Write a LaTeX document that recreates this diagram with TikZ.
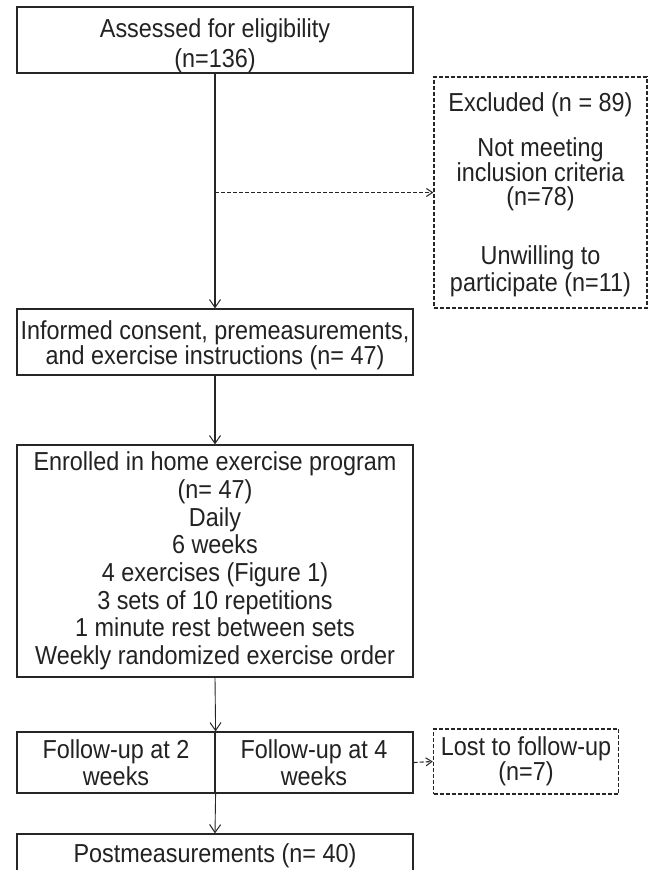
\documentclass[tikz,border=0pt]{standalone}
\usepackage{fontspec}
\setmainfont{Liberation Sans}[FakeStretch=0.9]
\usetikzlibrary{arrows.meta}
\definecolor{ln}{HTML}{262626}
\definecolor{tx}{HTML}{222222}
\tikzset{
  box/.style={draw=ln, line width=1.2pt, minimum width=396pt, align=center, inner sep=0pt, text=tx,
    font=\fontsize{26}{25}\selectfont},
  dbox/.style={box, dash pattern=on 4pt off 2pt, line width=1.5pt},
  conn/.style={draw=ln, line width=1.2pt, -{Straight Barb[length=8pt,width=11pt,line width=1pt]}},
  dconn/.style={draw=ln, line width=1.5pt, dash pattern=on 4pt off 2pt, -{Straight Barb[length=6pt,width=8pt,line width=1pt]}}
}
\begin{document}
\begin{tikzpicture}[x=1pt,y=-1pt]
\useasboundingbox (0,0) rectangle (650,870);
\clip (0,0) rectangle (650,870);
\fill[white] (0,0) rectangle (650,870);
\node[box, minimum height=66pt, font=\fontsize{26}{30}\selectfont] (b1) at (215,40) {\rule{0pt}{30pt}Assessed for eligibility\\(n=136)};
\node[dbox, minimum width=213pt, minimum height=231pt, font=\fontsize{26}{24}\selectfont] (ex) at (540.5,192.5)
  {\rule{0pt}{24pt}Excluded (n = 89)\\[19pt]Not meeting\\inclusion criteria\\(n=78)\\[34pt]Unwilling to\\[2pt]participate (n=11)};
\node[box, minimum height=66pt] (b2) at (215,342) {\rule{0pt}{26pt}Informed consent, premeasurements,\\and exercise instructions (n= 47)};
\node[box, minimum height=232pt, font=\fontsize{26}{27.7}\selectfont] (b3) at (215,561)
  {Enrolled in home exercise program\\(n= 47)\\Daily\\6 weeks\\4 exercises (Figure 1)\\3 sets of 10 repetitions\\1 minute rest between sets\\Weekly randomized exercise order};
\node[box, minimum width=198pt, minimum height=61pt, font=\fontsize{26}{27}\selectfont] (fl) at (116,762.5) {Follow-up at 2\\weeks};
\node[box, minimum width=198pt, minimum height=61pt, font=\fontsize{26}{27}\selectfont] (fr) at (314,762.5) {Follow-up at 4\\weeks};
\node[dbox, minimum width=185pt, minimum height=65pt, font=\fontsize{26}{24}\selectfont] (lost) at (526,761.5) {Lost to follow-up\\(n=7)};
\node[box, minimum height=44pt] (pm) at (215,856) {Postmeasurements (n= 40)};
\draw[conn] (b1.south) -- (b2.north);
\draw[dconn] (b1.south |- ex.west) -- (ex.west);
\draw[conn, line width=1.7pt] (b2.south) -- (b3.north);
\draw[conn, line width=0.9pt] (b3.south) -- (fl.north east);
\draw[conn, line width=0.9pt] (fl.south east) -- (pm.north);
\draw[dconn, line width=1.1pt] (fr.east) -- (lost.west);
\end{tikzpicture}
\end{document}
